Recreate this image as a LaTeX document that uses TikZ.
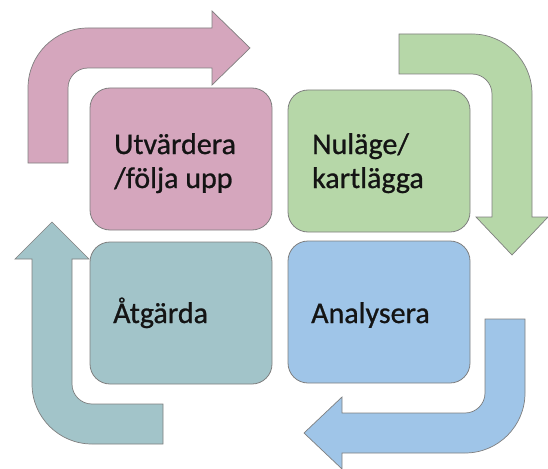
\documentclass[tikz,border=0pt]{standalone}
\usepackage{fontspec}
\setmainfont{Carlito}
\newfontfamily\boxfont[FakeBold=0.8]{Carlito}
\definecolor{pinkc}{HTML}{D5A6BD}
\definecolor{greenc}{HTML}{B6D7A8}
\definecolor{bluec}{HTML}{9FC5E8}
\definecolor{tealc}{HTML}{A2C4C9}
\definecolor{edgec}{HTML}{7F7F7F}
\begin{document}
\begin{tikzpicture}[x=1pt,y=-1pt,
  box/.style={draw=edgec, line width=0.8pt, rounded corners=20pt, minimum width=182pt, minimum height=142pt, inner sep=0pt},
  arr/.style={draw=edgec, line width=0.7pt, line join=miter},
  lbl/.style={font=\boxfont\fontsize{30}{34}\selectfont, text=black!92, align=left, inner sep=0pt}]
\useasboundingbox (0,0) rectangle (548,468);
% arrows
\draw[arr, fill=pinkc] (28,163) -- (28,88) arc[start angle=180, end angle=270, radius=60]
  -- (212,28) -- (212,11) -- (250,48) -- (212,85) -- (212,68) -- (88,68)
  arc[start angle=270, end angle=180, radius=20] -- (68,163) -- cycle;
\draw[arr, fill=greenc] (399,34) -- (472,34) arc[start angle=270, end angle=360, radius=60]
  -- (532,217) -- (548,217) -- (512,255) -- (476,217) -- (492,217) -- (492,94)
  arc[start angle=0, end angle=-90, radius=20] -- (399,74) -- cycle;
\draw[arr, fill=bluec] (485,319) -- (525,319) -- (525,393) arc[start angle=0, end angle=90, radius=60]
  -- (342,453) -- (342,469) -- (304,433) -- (342,397) -- (342,413) -- (465,413)
  arc[start angle=90, end angle=0, radius=20] -- cycle;
\draw[arr, fill=tealc] (163,444) -- (92,444) arc[start angle=90, end angle=180, radius=60]
  -- (32,259) -- (15,259) -- (52,222) -- (89,259) -- (72,259) -- (72,384)
  arc[start angle=180, end angle=90, radius=20] -- (163,404) -- cycle;
% boxes
\node[box, fill=pinkc] (utv) at (181,159) {};
\node[box, fill=greenc] (nul) at (379,161) {};
\node[box, fill=tealc] (atg) at (181,313) {};
\node[box, fill=bluec] (ana) at (379,312) {};
% labels
\node[lbl, anchor=base west] (tutv) at (114,188) {Utvärdera\\/följa upp};
\node[lbl, anchor=base west] (tnul) at (312,188) {Nuläge/\\kartlägga};
\node[lbl, anchor=base west] (tatg) at (113,323) {Åtgärda};
\node[lbl, anchor=base west] (tana) at (311,323) {Analysera};
\end{tikzpicture}
\end{document}
